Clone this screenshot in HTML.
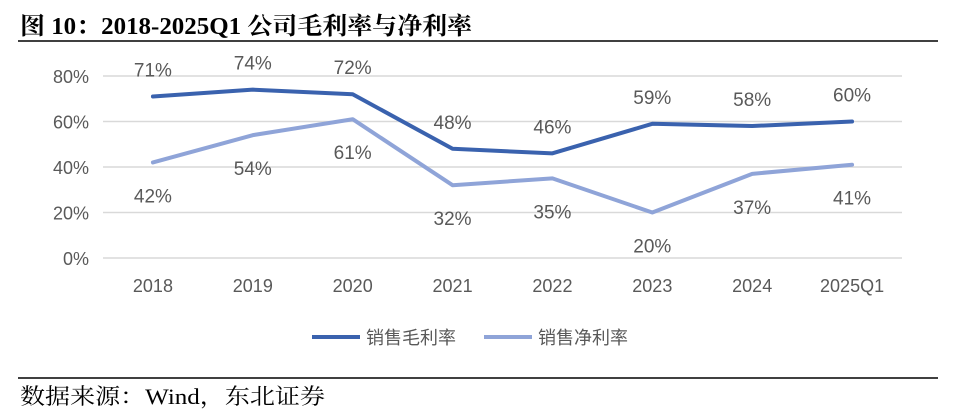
<!DOCTYPE html>
<html><head><meta charset="utf-8">
<style>
body{margin:0;background:#fff;width:956px;height:420px;overflow:hidden}
svg{display:block}
</style></head>
<body>
<svg width="956" height="420">
<text x="20" y="34" textLength="452" lengthAdjust="spacingAndGlyphs" font-family="'Liberation Serif','Noto Serif CJK SC',serif" font-size="24" font-weight="bold" fill="#000">图 10：2018-2025Q1 公司毛利率与净利率</text>
<line x1="18" y1="41" x2="938" y2="41" stroke="#000" stroke-width="1.5"/>
<g id="grid"></g>
<g id="plot"></g>
<g>
<line x1="312" y1="337" x2="360" y2="337" stroke="#3A62AE" stroke-width="4"/>
<text x="366" y="344" font-family="'Liberation Sans','Noto Sans CJK SC',sans-serif" font-size="18" fill="#595959">销售毛利率</text>
<line x1="484" y1="337" x2="532" y2="337" stroke="#8FA4D8" stroke-width="4"/>
<text x="538" y="344" font-family="'Liberation Sans','Noto Sans CJK SC',sans-serif" font-size="18" fill="#595959">销售净利率</text>
</g>
<line x1="18" y1="378" x2="938" y2="378" stroke="#000" stroke-width="1.5"/>
<text x="20" y="404" textLength="305" lengthAdjust="spacingAndGlyphs" font-family="'Liberation Serif','Noto Serif CJK SC',serif" font-size="22" fill="#000">数据来源：Wind，东北证券</text>
</svg>
<script>
const categories=["2018","2019","2020","2021","2022","2023","2024","2025Q1"];
const grossMargin=[71,74,72,48,46,59,58,60];
const netMargin=[42,54,61,32,35,20,37,41];
const yTicks=[0,20,40,60,80];
const NS="http://www.w3.org/2000/svg";
const x0=103,x1=902,yBase=258,yTop=76;
const xScale=i=>x0+(x1-x0)/categories.length*(i+0.5);
const yScale=v=>yBase-(yBase-yTop)*v/80;
const font="'Liberation Sans','Noto Sans CJK SC',sans-serif";
function mk(tag,attrs,parent){const e=document.createElementNS(NS,tag);for(const k in attrs)e.setAttribute(k,attrs[k]);parent.appendChild(e);return e;}
const grid=document.getElementById('grid'),plot=document.getElementById('plot');
yTicks.forEach(t=>{
 const l=mk('line',{x1:x0,x2:x1,y1:yScale(t),y2:yScale(t),stroke:'#D9D9D9','stroke-width':1.5},grid);
 
 
 const tx=mk('text',{x:89,y:yScale(t)+7,'text-anchor':'end','font-family':font,'font-size':18,fill:'#595959'},grid);
 tx.textContent=t+'%';
 
 
});
categories.forEach((c,i)=>{
 const tx=mk('text',{x:xScale(i),y:292,'text-anchor':'middle','font-family':font,'font-size':18,fill:'#595959'},grid);
 tx.textContent=c;
 
 
});
function series(vals,color,name,above){
 const p=mk('polyline',{points:vals.map((v,i)=>xScale(i)+','+yScale(v)).join(' '),fill:'none',stroke:color,'stroke-width':4,'stroke-linejoin':'round','stroke-linecap':'round'},plot);
 
 
 vals.forEach((v,i)=>{
  const up=above[i];
  const tx=mk('text',{x:xScale(i),y:up?yScale(v)-20:yScale(v)+40,'text-anchor':'middle','font-family':font,'font-size':19,fill:'#595959'},plot);
  tx.textContent=v+'%';
  
  
 });
}
series(grossMargin,'#3A62AE','gross-margin',grossMargin.map(()=>true));
series(netMargin,'#8FA4D8','net-margin',netMargin.map(()=>false));
</script>
</body></html>
